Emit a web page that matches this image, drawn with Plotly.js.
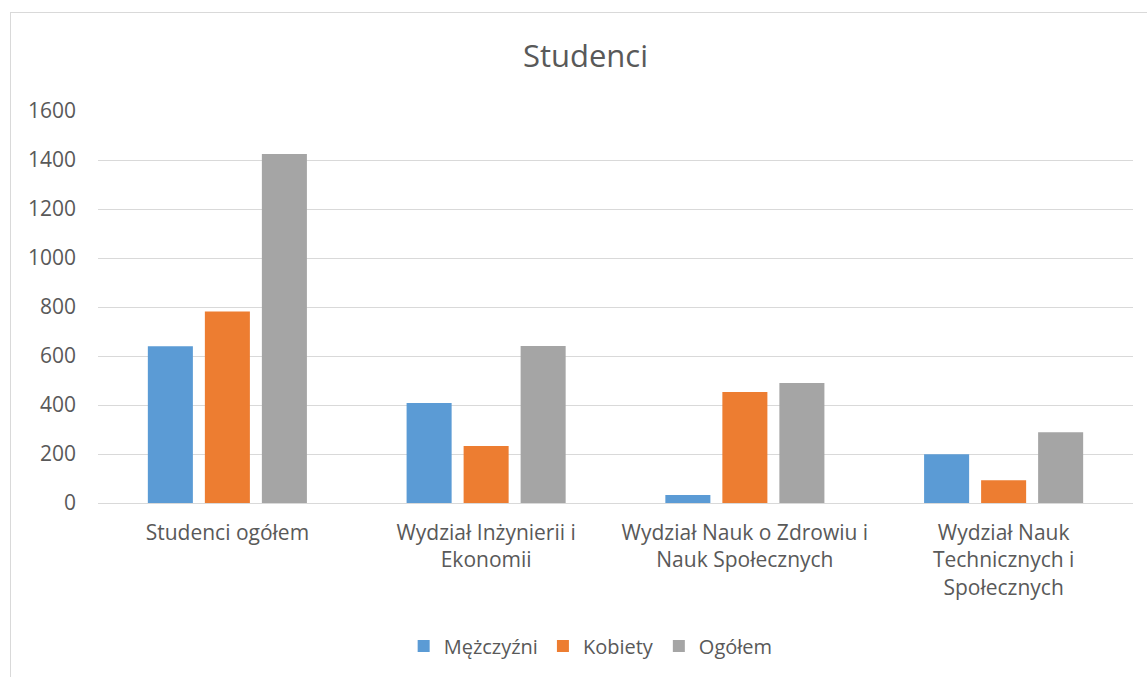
<!DOCTYPE html>
<html>
<head>
<meta charset="utf-8">
<script src="https://cdn.plot.ly/plotly-3.0.1.min.js"></script>
<style>
  html, body { margin: 0; padding: 0; overflow: hidden; background: #fff; width: 1147px; height: 677px; }
  #frame { position: absolute; left: 10px; top: 12px; width: 1200px; height: 720px; border: 1px solid #d9d9d9; box-sizing: border-box; }
  #chart { position: absolute; left: 0; top: 0; width: 1136px; height: 664px; }
</style>
</head>
<body>
<div id="frame"><div id="chart"></div></div>
<script>
const categories = [
  "Studenci ogółem",
  "Wydział Inżynierii i<br>Ekonomii",
  "Wydział Nauk o Zdrowiu i<br>Nauk Społecznych",
  "Wydział Nauk<br>Technicznych i<br>Społecznych"
];
const seriesNames = ["Mężczyźni", "Kobiety", "Ogółem"];
const mezczyzni = [640, 408, 33, 199];
const kobiety = [782, 233, 453, 93];
const ogolem = [1424, 641, 490, 289];
const yTicks = [0, 200, 400, 600, 800, 1000, 1200, 1400, 1600];

const colors = ["#5b9bd5", "#ed7d31", "#a5a5a5"];
const values = [mezczyzni, kobiety, ogolem];
const FONT = "'Open Sans', sans-serif";
const TXT = "#595959";

const traces = values.map((v, i) => ({
  type: "bar",
  name: seriesNames[i],
  x: categories,
  y: v,
  marker: { color: colors[i], line: { width: 0 } },
  hoverinfo: "x+y+name"
}));

const layout = {
  width: 1136,
  height: 664,
  margin: { l: 87, r: 14, t: 98, b: 174 },
  paper_bgcolor: "#ffffff",
  plot_bgcolor: "#ffffff",
  font: { family: FONT, color: TXT, size: 20 },
  title: {
    text: "Studenci",
    font: { family: FONT, size: 31, color: TXT },
    xref: "paper", x: 0.471, xanchor: "center",
    yref: "container", y: 0.935, yanchor: "middle"
  },
  barmode: "group",
  bargap: 0.339,
  bargroupgap: 0.21,
  xaxis: {
    type: "category",
    showgrid: false,
    showline: false,
    zeroline: false,
    ticks: "",
    ticklabelstandoff: 15,
    tickfont: { family: FONT, size: 21, color: TXT }
  },
  yaxis: {
    range: [0, 1600],
    tickvals: yTicks,
    ticktext: yTicks.map(String),
    showgrid: true,
    gridcolor: "#d9d9d9",
    gridwidth: 1,
    zeroline: true,
    zerolinecolor: "#d9d9d9",
    zerolinewidth: 1,
    showline: false,
    ticks: "",
    ticklabelstandoff: 21,
    tickfont: { family: FONT, size: 21, color: TXT }
  },
  showlegend: true,
  legend: {
    orientation: "h",
    x: 0.476, xanchor: "center",
    y: -0.365, yanchor: "middle",
    font: { family: FONT, size: 20, color: TXT },
    itemwidth: 30,
    traceorder: "normal"
  }
};

Plotly.newPlot("chart", traces, layout, { displayModeBar: false, staticPlot: true });
</script>
</body>
</html>
